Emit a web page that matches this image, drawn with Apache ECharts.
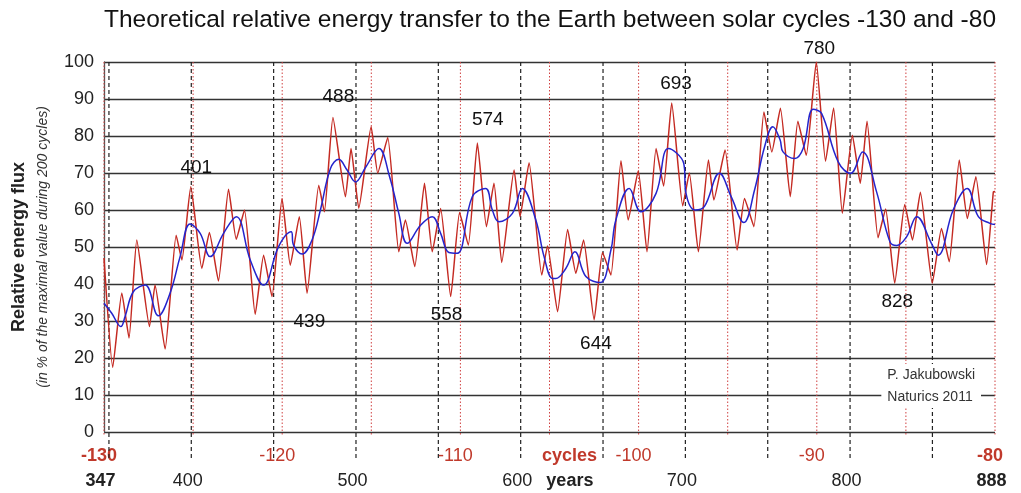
<!DOCTYPE html>
<html>
<head>
<meta charset="utf-8">
<script src="https://cdn.jsdelivr.net/npm/echarts@6/dist/echarts.min.js"></script>
<style>html,body{margin:0;padding:0;background:#fff;}#c{width:1021px;height:493px;}</style>
</head>
<body>
<div id="c"></div>
<script>
// ---- data ----
const titleText = 'Theoretical relative energy transfer to the Earth between solar cycles -130 and -80';
const yearRange = [347, 888];
const cycleRange = [-130, -80];
const yearTickLabels = [347, 400, 500, 600, 700, 800, 888];
const cycleTickLabels = [-130, -120, -110, -100, -90, -80];
const yearGridLines = [350, 400, 450, 500, 550, 600, 650, 700, 750, 800, 850];
const cycleGridLines = [-130, -125, -120, -115, -110, -105, -100, -95, -90, -85, -80];

// red: energy transfer per cycle [year, value]
const redSeries = [
  [347,47],[352.3,17.5],[357.8,37.6],[362.2,25.4],[366.9,51.9],[374.6,28.5],[378,39.7],[384.1,22.4],
  [390.8,53.2],[394.3,46.5],[399.7,66.3],[406.4,44.2],[411,53.9],[416.5,40.8],[422.6,65.6],[427.3,52.1],
  [432.3,60],[438.8,31.8],[443.9,47.8],[449,36.6],[455.1,63.1],[460.1,45.1],[465.6,58.2],[470.3,37.5],
  [477.4,66.7],[480.8,59.5],[486,85],[493.6,63.6],[497,76.6],[501.7,60.5],[509.2,82.5],[513.2,70],
  [519.3,79.6],[526,48.7],[530,57.3],[535.7,44.7],[541.6,67.2],[546.3,48.7],[551.4,60.4],[557.5,36.6],
  [562.9,59.3],[568.2,50.5],[573.7,78.1],[579.2,55.5],[583.8,67.2],[588.5,45.8],[596,70.8],[599.6,58.2],
  [605.1,72.8],[612.8,42.4],[616.3,50.3],[622.4,32.5],[628.5,54.7],[633.5,42.9],[638.2,51.9],[644.6,30.3],
  [649.7,48.5],[654.8,42.4],[660.9,73.3],[665.3,57.3],[671.4,70.6],[676.7,48.7],[682.2,76.6],[686.8,66.5],
  [691.7,88.9],[698.4,61.1],[702.4,70],[707.9,48.7],[714,73.5],[717.3,62.7],[724.1,76.2],[731.4,49.2],
  [735.9,63.1],[741.6,55.5],[747.7,86.5],[752.5,75.7],[757.7,87.5],[763.7,63.6],[768.3,84],[773.4,74.8],
  [779.5,100],[785.1,73.2],[790,87.6],[795.3,59.1],[801.4,80.2],[806.2,67.2],[810.3,84],[817,52.5],
  [821.6,60.3],[827.1,40.2],[833.2,61.5],[837.9,51.9],[842.7,64.8],[849.9,40.2],[855.5,55],[860.2,46],
  [866.3,73.5],[871.2,57.7],[876.4,69],[882.9,45.3],[887,64.9],[888,65]
];

// blue: smoothed curve [year, value]
const blueSeries = [
  [347,34.8],[351.7,32.1],[357.2,28.5],[359.8,31.2],[364.8,37.9],[372,39.7],[380,31.4],[387.1,37.5],
  [393.2,47.4],[399.3,56.2],[405.4,53.7],[411.5,47.4],[419.6,53.7],[427.3,58.2],[435.8,46.5],[443.9,39.7],
  [453,50.1],[460.6,54.1],[462.1,50.5],[467.3,48.1],[473.3,51.9],[478.4,60],[484.5,71.2],[489.5,73.7],
  [494.6,70.8],[499.7,67.6],[505.8,71.5],[513.9,76.6],[520.4,69],[526,59.1],[531.1,51],[539.2,55.9],
  [546.3,58.2],[551.4,53.7],[556.4,48.5],[561.5,48.3],[570.6,63.6],[578.7,65.8],[582.8,60],[586.8,56.8],
  [595,59.1],[601,65.8],[609.2,57.3],[614.2,47.4],[619.3,41.5],[621.3,41.5],[627.4,44.2],[632.9,48.7],
  [639.6,42],[648.3,40.4],[654.8,49.2],[657.8,57.3],[665.9,65.8],[673,59.5],[682.2,64.5],[689.7,76.6],
  [699,72.6],[700.4,64.5],[705.9,60],[711.5,60.9],[720.7,69.9],[727.8,63.6],[735.5,56.6],[742,65.4],
  [748.1,77.1],[753.1,82.5],[757.5,79],[759.3,75.7],[766.4,73.9],[771.5,76.6],[777.6,87.2],[782.7,86.1],
  [792.8,73],[800.3,69.9],[807.6,75.7],[816.1,64.9],[824.2,51.4],[828.3,50.4],[834.4,52.8],[840.5,58.2],
  [849.4,51],[853.5,47.8],[862.6,60],[871.1,65.8],[877.9,58.2],[884.9,56.4],[888,56.1]
];

// annotation labels [year, value, text]
const annotations = [
  [403,71.3,'401'],[489.3,90.5,'488'],[580,84.3,'574'],[694.3,94,'693'],[781.3,103.7,'780'],
  [471.7,29.8,'439'],[555,31.7,'558'],[645.7,23.8,'644'],[828.7,35.2,'828']
];
const yearsWord = [632, 'years'];
const cyclesWord = [-103.6, 'cycles'];
const creditLines = ['P. Jakubowski', 'Naturics 2011'];

// ---- chart ----
const chart = echarts.init(document.getElementById('c'), null, {renderer: 'canvas'});
const FONT = 'Liberation Sans, Arial, sans-serif';
const RED = '#c0392b';

function vline(color, dash, width, extra) {
  return function (params, api) {
    const t = api.coord([api.value(0), 100]);
    const b = api.coord([api.value(0), 0]);
    return {
      type: 'line',
      shape: {x1: t[0], y1: t[1], x2: b[0], y2: b[1] + extra},
      style: {stroke: color, lineDash: dash, lineWidth: width}
    };
  };
}

const option = {
  backgroundColor: '#fff',
  animation: false,
  title: {
    text: titleText, left: 99, top: 3,
    textStyle: {fontFamily: FONT, fontSize: 24.5, fontWeight: 'normal', color: '#111'}
  },
  grid: {left: 104, right: 26, top: 62, bottom: 61, containLabel: false},
  xAxis: [
    {
      type: 'value', min: yearRange[0], max: yearRange[1], position: 'bottom',
      axisLine: {show: false}, axisTick: {show: false}, splitLine: {show: false},
      axisLabel: {
        customValues: yearTickLabels.concat([yearsWord[0]]), margin: 40,
        fontFamily: FONT, fontSize: 18, color: '#222', hideOverlap: false,
        padding: [0, 7, 0, 0],
        formatter: function (v) {
          if (Math.abs(v - yearsWord[0]) < 0.5) return '{b|' + yearsWord[1] + '}';
          if (v === yearRange[0] || v === yearRange[1]) return '{b|' + v + '}';
          return String(v);
        },
        rich: {b: {fontFamily: FONT, fontSize: 18, fontWeight: 'bold', color: '#222'}}
      }
    },
    {
      type: 'value', min: cycleRange[0], max: cycleRange[1], position: 'bottom',
      axisLine: {show: false}, axisTick: {show: false}, splitLine: {show: false},
      axisLabel: {
        customValues: cycleTickLabels.concat([cyclesWord[0]]), margin: 15,
        fontFamily: FONT, fontSize: 18, color: RED, hideOverlap: false,
        padding: [0, 10, 0, 0],
        formatter: function (v) {
          if (Math.abs(v - cyclesWord[0]) < 0.5) return '{b|' + cyclesWord[1] + '}';
          if (v === cycleRange[0] || v === cycleRange[1]) return '{b|' + v + '}';
          return String(v);
        },
        rich: {b: {fontFamily: FONT, fontSize: 18, fontWeight: 'bold', color: RED}}
      }
    }
  ],
  yAxis: {
    type: 'value', min: 0, max: 100, interval: 10,
    axisLine: {show: true, lineStyle: {color: '#555', width: 1.3}},
    axisTick: {show: false},
    axisLabel: {fontFamily: FONT, fontSize: 18, color: '#222', margin: 10},
    splitLine: {show: true, lineStyle: {color: '#333', width: 1.4}},
    name: '{a|Relative energy flux}\n{b|(in % of the maximal value during 200 cycles)}',
    nameLocation: 'middle', nameGap: 50, nameRotate: 90,
    nameTextStyle: {
      rich: {
        a: {fontFamily: FONT, fontSize: 18, fontWeight: 'bold', color: '#222', lineHeight: 26},
        b: {fontFamily: FONT, fontSize: 14, fontStyle: 'italic', color: '#333', lineHeight: 22}
      }
    }
  },
  series: [
    {
      type: 'custom', xAxisIndex: 1, yAxisIndex: 0, clip: false, silent: true, z: 3,
      data: cycleGridLines.map(v => [v]),
      renderItem: vline('#d04040', [1.5, 2], 1, 4)
    },
    {
      type: 'custom', xAxisIndex: 0, yAxisIndex: 0, clip: false, silent: true, z: 3,
      data: yearGridLines.map(v => [v]),
      renderItem: vline('#222', [4, 3], 1.2, 26)
    },
    {
      type: 'line', xAxisIndex: 0, data: redSeries, showSymbol: false, smooth: 0.15,
      lineStyle: {color: '#c42a22', width: 1.5}, z: 5
    },
    {
      type: 'line', xAxisIndex: 0, data: blueSeries, showSymbol: false, smooth: 0.4,
      lineStyle: {color: '#2424cc', width: 1.5}, z: 6
    },
    {
      type: 'scatter', xAxisIndex: 0, symbolSize: 1, clip: false, z: 10,
      itemStyle: {color: 'rgba(0,0,0,0)', opacity: 1},
      data: annotations.map(a => ({value: [a[0], a[1]], name: a[2]})),
      label: {
        show: true, position: 'inside', formatter: '{b}',
        fontFamily: FONT, fontSize: 19, color: '#111', opacity: 1, textBorderWidth: 0
      }
    }
  ],
  graphic: [
    {
      type: 'text', right: 40, top: 364, z: 100,
      style: {
        text: creditLines.join('\n'), fill: '#333', font: '14px ' + FONT,
        lineHeight: 22, backgroundColor: '#fff', padding: [0, 6], align: 'left'
      }
    }
  ]
};
chart.setOption(option);
</script>
</body>
</html>
